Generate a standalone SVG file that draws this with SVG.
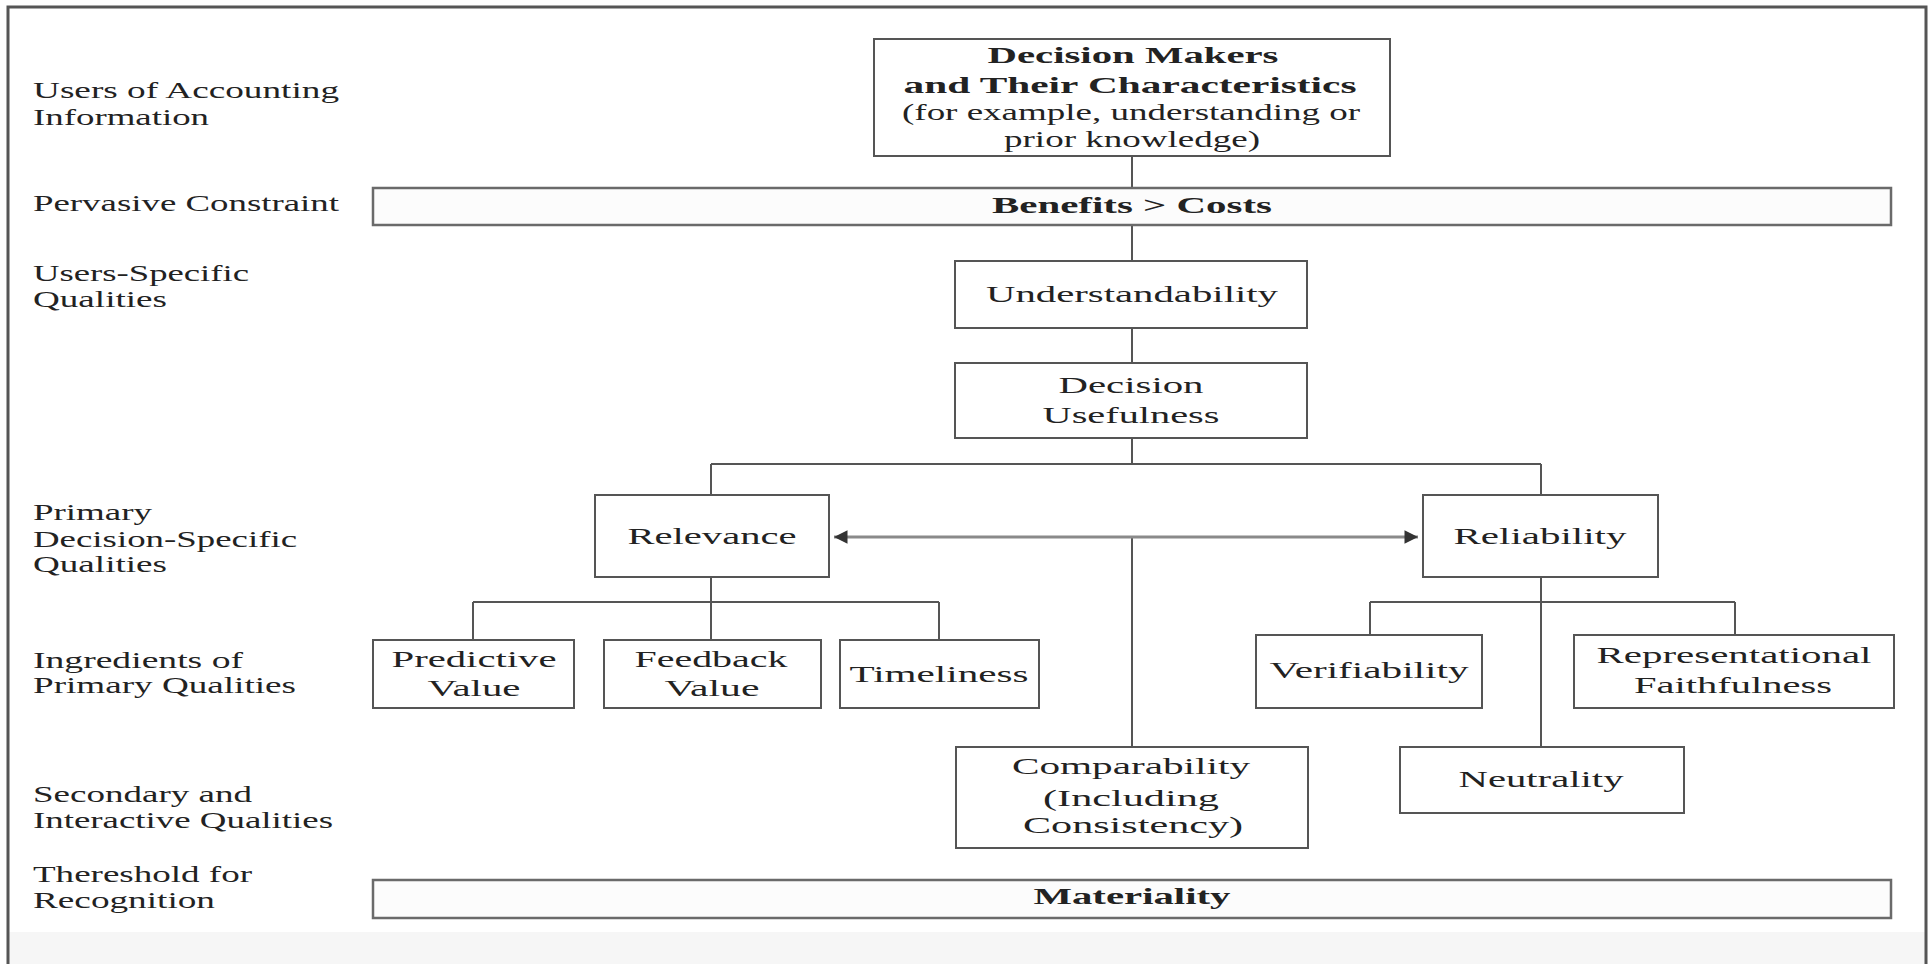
<svg xmlns="http://www.w3.org/2000/svg" width="1932" height="964" viewBox="0 0 1932 964">
<style>
text{font-family:"Liberation Serif","Times New Roman",serif;font-size:24px;fill:#222}
.b{font-weight:bold}
.m{text-anchor:middle}
.box{fill:#fff;stroke:#555;stroke-width:2}
.bar{fill:#fcfcfc;stroke:#6a6a6a;stroke-width:2.5}
.ln{fill:none;stroke:#555;stroke-width:2}
.arr{fill:none;stroke:#8a8a8a;stroke-width:3}
</style>
<defs>
<marker id="ah" viewBox="0 0 10 10" refX="10" refY="5" markerWidth="7" markerHeight="4.5" orient="auto-start-reverse" markerUnits="strokeWidth">
<path d="M0,0 L10,5 L0,10 z" fill="#333"/>
</marker>
</defs>
<rect x="0" y="0" width="1932" height="964" fill="#fff"/>
<rect x="8" y="932" width="1918" height="32" fill="#f6f6f6"/>
<path d="M8,964 V7 H1926 V964" fill="none" stroke="#555" stroke-width="3"/>

<g id="row-labels">
<text x="33" y="98" textLength="306" lengthAdjust="spacingAndGlyphs">Users of Accounting</text>
<text x="33" y="125" textLength="176" lengthAdjust="spacingAndGlyphs">Information</text>
<text x="33" y="211" textLength="306" lengthAdjust="spacingAndGlyphs">Pervasive Constraint</text>
<text x="33" y="281" textLength="216" lengthAdjust="spacingAndGlyphs">Users-Specific</text>
<text x="33" y="307" textLength="134" lengthAdjust="spacingAndGlyphs">Qualities</text>
<text x="33" y="520" textLength="119" lengthAdjust="spacingAndGlyphs">Primary</text>
<text x="33" y="547" textLength="264" lengthAdjust="spacingAndGlyphs">Decision-Specific</text>
<text x="33" y="572" textLength="134" lengthAdjust="spacingAndGlyphs">Qualities</text>
<text x="33" y="668" textLength="210" lengthAdjust="spacingAndGlyphs">Ingredients of</text>
<text x="33" y="693" textLength="263" lengthAdjust="spacingAndGlyphs">Primary Qualities</text>
<text x="33" y="802" textLength="219" lengthAdjust="spacingAndGlyphs">Secondary and</text>
<text x="33" y="828" textLength="300" lengthAdjust="spacingAndGlyphs">Interactive Qualities</text>
<text x="33" y="882" textLength="219" lengthAdjust="spacingAndGlyphs">Thereshold for</text>
<text x="33" y="908" textLength="182" lengthAdjust="spacingAndGlyphs">Recognition</text>
</g>

<g id="connectors">
<path class="ln" d="M1132,156 V188 M1132,225 V261 M1132,328 V363 M1132,438 V464 M711,464 H1541 M711,464 V495 M1541,464 V495"/>
<path class="ln" d="M711,577 V640 M473,602 H939 M473,602 V640 M939,602 V640"/>
<path class="ln" d="M1541,577 V747 M1370,602 H1735 M1370,602 V635 M1735,602 V635"/>
<path class="ln" d="M1132,537 V747"/>
<path class="arr" d="M834,537 H1418" marker-start="url(#ah)" marker-end="url(#ah)"/>
</g>

<g id="decision-makers">
<rect class="box" x="874" y="39" width="516" height="117"/>
<text class="m b" x="1133" y="63" textLength="291" lengthAdjust="spacingAndGlyphs">Decision Makers</text>
<text class="m b" x="1130" y="93" textLength="453" lengthAdjust="spacingAndGlyphs">and Their Characteristics</text>
<text class="m" x="1131" y="120" textLength="458" lengthAdjust="spacingAndGlyphs">(for example, understanding or</text>
<text class="m" x="1132" y="147" textLength="256" lengthAdjust="spacingAndGlyphs">prior knowledge)</text>
</g>

<g id="benefits-costs">
<rect class="bar" x="373" y="188" width="1518" height="37"/>
<text class="m b" x="1132" y="213" textLength="280" lengthAdjust="spacingAndGlyphs">Benefits &gt; Costs</text>
</g>

<g id="understandability">
<rect class="box" x="955" y="261" width="352" height="67"/>
<text class="m" x="1132" y="302" textLength="292" lengthAdjust="spacingAndGlyphs">Understandability</text>
</g>

<g id="decision-usefulness">
<rect class="box" x="955" y="363" width="352" height="75"/>
<text class="m" x="1131" y="393" textLength="145" lengthAdjust="spacingAndGlyphs">Decision</text>
<text class="m" x="1131" y="423" textLength="177" lengthAdjust="spacingAndGlyphs">Usefulness</text>
</g>

<g id="relevance">
<rect class="box" x="595" y="495" width="234" height="82"/>
<text class="m" x="712" y="544" textLength="169" lengthAdjust="spacingAndGlyphs">Relevance</text>
</g>

<g id="reliability">
<rect class="box" x="1423" y="495" width="235" height="82"/>
<text class="m" x="1540" y="544" textLength="173" lengthAdjust="spacingAndGlyphs">Reliability</text>
</g>

<g id="predictive-value">
<rect class="box" x="373" y="640" width="201" height="68"/>
<text class="m" x="474" y="667" textLength="165" lengthAdjust="spacingAndGlyphs">Predictive</text>
<text class="m" x="474" y="696" textLength="93" lengthAdjust="spacingAndGlyphs">Value</text>
</g>

<g id="feedback-value">
<rect class="box" x="604" y="640" width="217" height="68"/>
<text class="m" x="711" y="667" textLength="153" lengthAdjust="spacingAndGlyphs">Feedback</text>
<text class="m" x="712" y="696" textLength="95" lengthAdjust="spacingAndGlyphs">Value</text>
</g>

<g id="timeliness">
<rect class="box" x="840" y="640" width="199" height="68"/>
<text class="m" x="939" y="682" textLength="179" lengthAdjust="spacingAndGlyphs">Timeliness</text>
</g>

<g id="verifiability">
<rect class="box" x="1256" y="635" width="226" height="73"/>
<text class="m" x="1369" y="678" textLength="199" lengthAdjust="spacingAndGlyphs">Verifiability</text>
</g>

<g id="representational-faithfulness">
<rect class="box" x="1574" y="635" width="320" height="73"/>
<text class="m" x="1734" y="663" textLength="275" lengthAdjust="spacingAndGlyphs">Representational</text>
<text class="m" x="1733" y="693" textLength="198" lengthAdjust="spacingAndGlyphs">Faithfulness</text>
</g>

<g id="comparability">
<rect class="box" x="956" y="747" width="352" height="101"/>
<text class="m" x="1131" y="774" textLength="238" lengthAdjust="spacingAndGlyphs">Comparability</text>
<text class="m" x="1131" y="806" textLength="176" lengthAdjust="spacingAndGlyphs">(Including</text>
<text class="m" x="1133" y="833" textLength="220" lengthAdjust="spacingAndGlyphs">Consistency)</text>
</g>

<g id="neutrality">
<rect class="box" x="1400" y="747" width="284" height="66"/>
<text class="m" x="1541" y="787" textLength="165" lengthAdjust="spacingAndGlyphs">Neutrality</text>
</g>

<g id="materiality">
<rect class="bar" x="373" y="880" width="1518" height="38"/>
<text class="m b" x="1132" y="904" textLength="197" lengthAdjust="spacingAndGlyphs">Materiality</text>
</g>
</svg>
